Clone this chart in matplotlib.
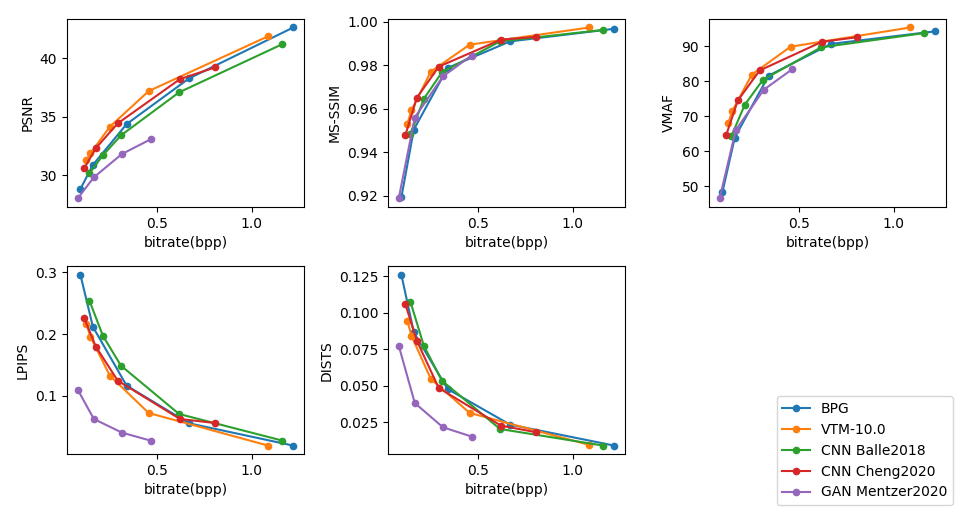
import matplotlib
matplotlib.use('Agg')
import matplotlib.pyplot as plt

methods = ['BPG', 'VTM-10.0', 'CNN Balle2018', 'CNN Cheng2020', 'GAN Mentzer2020']

bpp_bpg = [0.092, 0.158, 0.337, 0.668, 1.221]
bpp_vtm = [0.124, 0.145, 0.248, 0.454, 1.088]
bpp_balle = [0.140, 0.211, 0.307, 0.615, 1.163]
bpp_cheng = [0.113, 0.174, 0.290, 0.620, 0.805]
bpp_mentzer = [0.078, 0.163, 0.312, 0.464]

psnr_bpg = [28.8, 30.86, 34.37, 38.29, 42.66]
psnr_vtm = [31.29, 31.86, 34.14, 37.2, 41.91]
psnr_balle = [30.14, 31.69, 33.4, 37.09, 41.23]
psnr_cheng = [30.6, 32.31, 34.43, 38.23, 39.23]
psnr_mentzer = [28.0, 29.8, 31.8, 33.06]

msssim_bpg = [0.9194, 0.9505, 0.9788, 0.9910, 0.9968]
msssim_vtm = [0.9532, 0.9593, 0.9771, 0.9895, 0.9974]
msssim_balle = [0.9483, 0.9646, 0.9768, 0.9910, 0.9963]
msssim_cheng = [0.9479, 0.9651, 0.9794, 0.9918, 0.9931]
msssim_mentzer = [0.9189, 0.9560, 0.9749, 0.9845]

vmaf_bpg = [48.2, 63.9, 81.6, 90.7, 94.3]
vmaf_vtm = [68.1, 71.5, 81.9, 89.9, 95.4]
vmaf_balle = [64.3, 73.3, 80.4, 89.7, 93.8]
vmaf_cheng = [64.7, 74.5, 83.1, 91.3, 92.6]
vmaf_mentzer = [46.5, 66.0, 77.6, 83.5]

lpips_bpg = [0.2962, 0.2121, 0.1167, 0.0558, 0.0197]
lpips_vtm = [0.2164, 0.1960, 0.1329, 0.0725, 0.0197]
lpips_balle = [0.2542, 0.1976, 0.1491, 0.0709, 0.0278]
lpips_cheng = [0.2256, 0.1798, 0.1248, 0.0628, 0.0563]
lpips_mentzer = [0.1102, 0.0628, 0.0407, 0.0278]

dists_bpg = [0.1261, 0.0866, 0.0478, 0.0234, 0.0090]
dists_vtm = [0.0946, 0.0844, 0.0547, 0.0314, 0.0095]
dists_balle = [0.1076, 0.0775, 0.0535, 0.0204, 0.0090]
dists_cheng = [0.1060, 0.0809, 0.0485, 0.0227, 0.0182]
dists_mentzer = [0.0775, 0.0382, 0.0216, 0.0152]

bpps = [bpp_bpg, bpp_vtm, bpp_balle, bpp_cheng, bpp_mentzer]
metrics = [
    ('PSNR', [psnr_bpg, psnr_vtm, psnr_balle, psnr_cheng, psnr_mentzer]),
    ('MS-SSIM', [msssim_bpg, msssim_vtm, msssim_balle, msssim_cheng, msssim_mentzer]),
    ('VMAF', [vmaf_bpg, vmaf_vtm, vmaf_balle, vmaf_cheng, vmaf_mentzer]),
    ('LPIPS', [lpips_bpg, lpips_vtm, lpips_balle, lpips_cheng, lpips_mentzer]),
    ('DISTS', [dists_bpg, dists_vtm, dists_balle, dists_cheng, dists_mentzer]),
]

fig, axes = plt.subplots(2, 3, figsize=(9.6, 5.12), dpi=100)
axes = axes.ravel()

for ax, (name, vals) in zip(axes, metrics):
    for m, x, y in zip(methods, bpps, vals):
        ax.plot(x, y, marker='o', markersize=4.5, label=m)
    ax.set_xlabel('bitrate(bpp)')
    ax.set_ylabel(name)

axes[5].axis('off')
handles, labels = axes[0].get_legend_handles_labels()
fig.legend(handles, labels, loc='lower right')

plt.subplots_adjust(left=0.0698, right=0.9854, top=0.963, bottom=0.113,
                    wspace=0.354, hspace=0.316)
plt.savefig('out.png')
